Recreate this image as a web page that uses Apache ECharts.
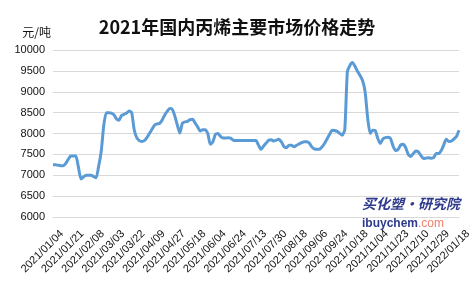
<!DOCTYPE html>
<html><head><meta charset="utf-8">
<script src="https://cdn.jsdelivr.net/npm/echarts@6/dist/echarts.min.js"></script>
<style>html,body{margin:0;padding:0;background:#fff}#c{width:474px;height:285px}</style>
</head><body><div id="c"></div>
<script>
var titleText = '2021年国内丙烯主要市场价格走势';
var unitText = '元/吨';
var tickLabels = ['2021/01/04','2021/01/21','2021/02/08','2021/03/03','2021/03/22','2021/04/09','2021/04/27','2021/05/18','2021/06/04','2021/06/24','2021/07/13','2021/07/30','2021/08/18','2021/09/06','2021/09/24','2021/10/18','2021/11/04','2021/11/23','2021/12/10','2021/12/29','2022/01/18'];
var pointsPerLabel = 8;
var prices = [
7250,7250,7240,7230,7230,7280,7380,7460,7460,7460,
7200,6910,6960,7000,7000,7000,6970,6940,7220,7570,
8190,8500,8500,8490,8450,8350,8320,8430,8460,8490,
8540,8500,8090,7900,7830,7810,7830,7900,8000,8100,
8200,8230,8240,8320,8440,8530,8600,8580,8420,8200,
8010,8250,8280,8290,8330,8340,8250,8160,8060,8090,
8090,8000,7740,7800,7980,8000,7930,7890,7890,7900,
7890,7840,7830,7830,7830,7830,7830,7830,7830,7830,
7830,7720,7620,7700,7770,7840,7850,7820,7840,7860,
7800,7690,7660,7720,7720,7680,7720,7750,7780,7800,
7800,7770,7680,7630,7620,7620,7680,7760,7870,7980,
8080,8070,8050,8000,7960,8100,9480,9630,9700,9610,
9490,9390,9270,9000,8370,8000,8080,8070,7880,7760,
7870,7900,7910,7880,7700,7590,7620,7720,7740,7660,
7500,7450,7520,7580,7560,7470,7400,7410,7420,7410,
7420,7520,7520,7590,7730,7860,7810,7820,7870,7930,
8080];
var categories = prices.map(function(v,i){
  return (i % pointsPerLabel === 0) ? tickLabels[i / pointsPerLabel] : ('p' + i);
});
var chart = echarts.init(document.getElementById('c'), null, {renderer:'canvas'});
chart.setOption({
  animation:false,
  backgroundColor:'#fff',
  title:{text:titleText,left:232,textAlign:'center',top:13,
    textStyle:{fontFamily:'Noto Sans CJK SC',fontWeight:'bold',fontSize:18,color:'#111'}},
  grid:[{left:53,right:15,top:50,bottom:68,containLabel:false},
        {left:62,right:6,top:50,bottom:68,containLabel:false}],
  xAxis:[{type:'category',data:categories,boundaryGap:false,gridIndex:0,
    axisLine:{show:true,lineStyle:{color:'#d9d9d9',width:1}},
    axisTick:{show:false},axisLabel:{show:false}},
    {type:'category',data:categories,boundaryGap:false,gridIndex:1,
    axisLine:{show:false},axisTick:{show:false},splitLine:{show:false},
    axisLabel:{interval:pointsPerLabel-1,rotate:45,margin:15,fontSize:11,color:'#111',
      fontFamily:'Liberation Sans'}}],
  yAxis:[{type:'value',min:6000,max:10000,interval:500,gridIndex:0,
    name:unitText,nameLocation:'end',nameGap:12,
    nameTextStyle:{fontSize:12,color:'#111',fontFamily:'Noto Sans CJK SC',align:'right',padding:[0,2,0,0]},
    axisLine:{show:false},axisTick:{show:false},
    axisLabel:{margin:8,fontSize:11,color:'#111',fontFamily:'Liberation Sans',
      formatter:function(v){return String(v);}},
    splitLine:{lineStyle:{color:'#d9d9d9',width:1}}},
    {type:'value',min:6000,max:10000,gridIndex:1,show:false,splitLine:{show:false}}],
  graphic:[
    {type:'text',left:362,top:197,style:{text:'买化塑·研究院',fontSize:14,fontWeight:'bold',fontStyle:'italic',
      fontFamily:'Noto Sans CJK SC',fill:'#2e3a8c'}},
    {type:'text',left:362,top:218,style:{rich:{a:{fontSize:12,fontFamily:'Liberation Sans',fill:'#2e3a8c',fontWeight:'bold'},
      b:{fontSize:12,fontFamily:'Liberation Sans',fill:'#f0806a'}},text:'{a|ibuychem}{b|.com}'}}
  ],
  series:[{type:'line',data:prices,showSymbol:false,smooth:0.2,xAxisIndex:0,yAxisIndex:0,
    lineStyle:{color:'#5b9bd5',width:3},itemStyle:{color:'#5b9bd5'}}]
});
</script></body></html>
